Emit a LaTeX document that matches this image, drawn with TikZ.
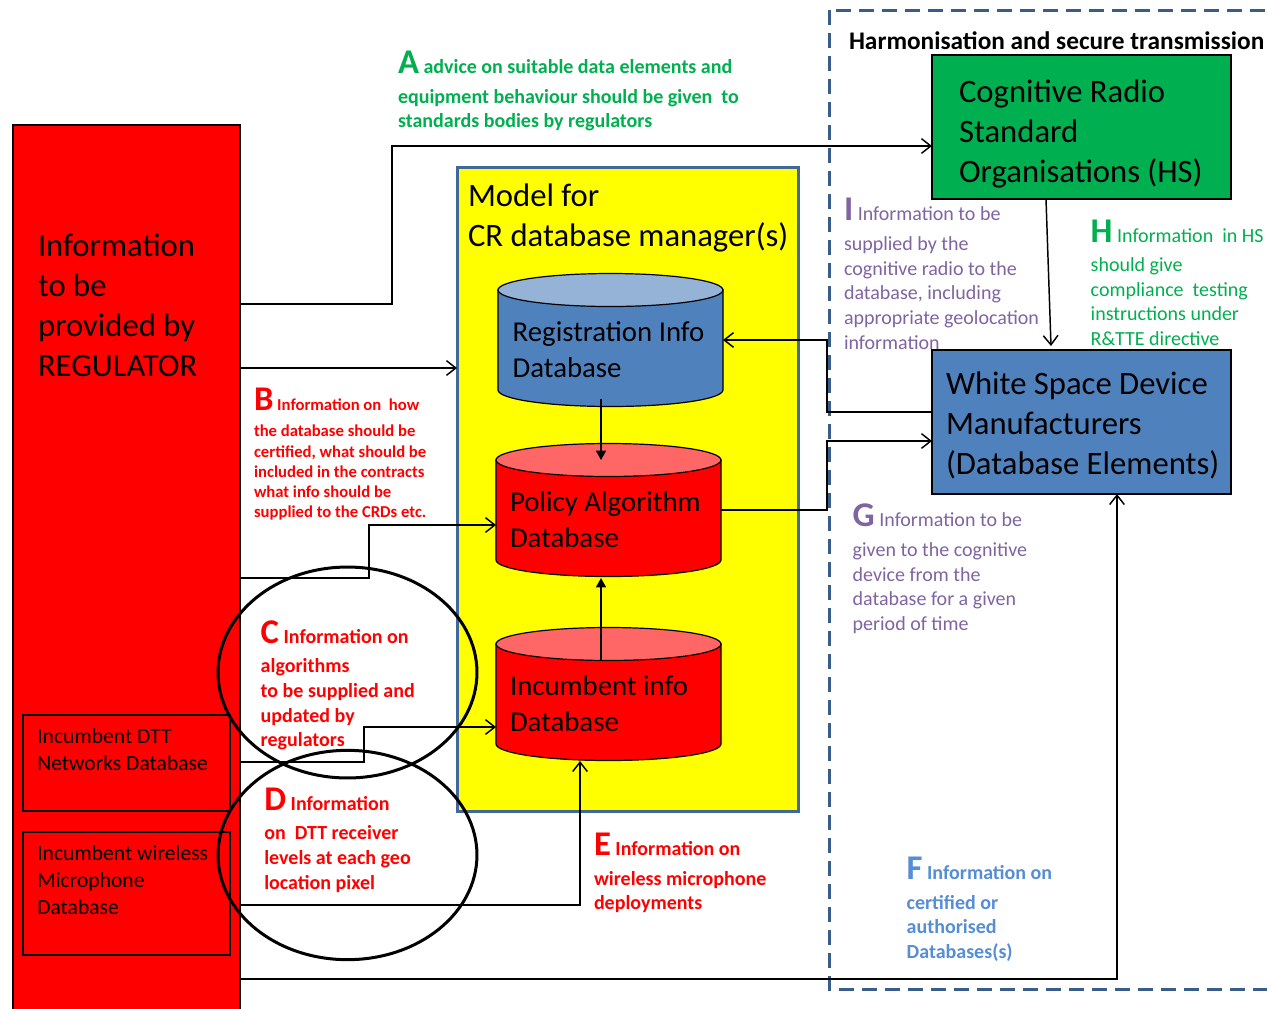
\documentclass[tikz,border=0pt]{standalone}
\usepackage{fontspec}
\setmainfont{Carlito}
\usetikzlibrary{arrows.meta,calc}
\definecolor{regred}{HTML}{FF0000}
\definecolor{topred}{HTML}{FF6666}
\definecolor{dbblue}{HTML}{4F81BD}
\definecolor{topblue}{HTML}{95B3D7}
\definecolor{hsgreen}{HTML}{00B050}
\definecolor{ylw}{HTML}{FFFF00}
\definecolor{frameblue}{HTML}{41689A}
\definecolor{dashblue}{HTML}{385D8A}
\definecolor{txtgreen}{HTML}{00B050}
\definecolor{txtpurple}{HTML}{8064A2}
\definecolor{txtblue}{HTML}{558ED5}
\newcommand\ml[1]{\begin{tabular}[t]{@{}l@{}}#1\end{tabular}}
\newcommand\bigL[2]{{\fontsize{#1}{#1}\selectfont\bfseries #2}}
\newcommand\dbcyl[5]{%
  \filldraw[fill=#4, draw=black, line width=0.9pt] ({#1-112.5},#2) -- ({#1-112.5},#3)
    arc[start angle=180, end angle=360, x radius=84.375pt, y radius=12.375pt] -- ({#1+112.5},#2) -- cycle;
  \filldraw[fill=#5, draw=black, line width=0.9pt] (#1,#2) ellipse[x radius=84.375pt, y radius=12.375pt];}
\begin{document}
\begin{tikzpicture}[x=0.75pt,y=-0.75pt,
  box/.style={rectangle, draw=black, outer sep=0pt, inner sep=0pt},
  area/.style={rectangle, outer sep=0pt, inner sep=0pt, minimum width=168.75pt, minimum height=100.5pt},
  con/.style={line width=1.1pt, -{Straight Barb[length=7pt,width=11pt]}},
  fcon/.style={line width=1.1pt, -{Triangle[length=7pt,width=7.5pt]}},
  txt/.style={anchor=base west, inner sep=0pt, outer sep=0pt},
  bigtxt/.style={txt, font=\fontsize{24.5}{30.2}\selectfont},
  cyltxt/.style={txt, font=\fontsize{21.6}{27}\selectfont},
  smalltxt/.style={txt, font=\fontsize{16.2}{20.4}\selectfont},
  lblbold/.style={txt, font=\fontsize{15}{18.5}\selectfont\bfseries},
  lblreg/.style={txt, font=\fontsize{15}{18.5}\selectfont}]
\clip (0,0) rectangle (1267,1008);
\fill[white] (0,0) rectangle (1267,1008);

% dashed harmonisation frame
\draw[dashblue, line width=2.25pt, dash pattern=on 11.25pt off 6pt] (829,10) rectangle (1310,989);
\node[txt, font=\fontsize{19}{22}\selectfont\bfseries] (harm) at (849,49.5) {Harmonisation and secure transmission};

% regulator column
\node[box, fill=regred, line width=1.5pt, minimum width=170.25pt, minimum height=671.25pt] (regulator) at (126.5,572.5) {};
\node[bigtxt] (regtxt) at (38,256) {\ml{Information\\to be\\provided by\\REGULATOR}};
\node[box, fill=regred, line width=1.1pt, minimum width=155.25pt, minimum height=72pt] (dtt) at (126.5,763) {};
\node[smalltxt] (dtttxt) at (37.3,743.3) {\ml{Incumbent DTT\\Networks Database}};
\node[box, fill=regred, line width=1.1pt, minimum width=155.25pt, minimum height=92.25pt] (mic) at (126.5,893.5) {};
\node[smalltxt] (mictxt) at (37.3,860) {\ml{Incumbent wireless\\Microphone\\Database}};

% model box
\node[box, draw=frameblue, fill=ylw, line width=2.25pt, minimum width=255.75pt, minimum height=483pt] (model) at (627.5,489) {};
\node[bigtxt] (modeltxt) at (468,206) {\ml{Model for\\CR database manager(s)}};

% cylinders
\dbcyl{610.5}{290}{390}{dbblue}{topblue}
\dbcyl{608.5}{460}{560}{regred}{topred}
\dbcyl{608.5}{644}{744}{regred}{topred}
\node[area] (reg) at (610.5,340) {};
\node[area] (pol) at (608.5,510) {};
\node[area] (inc) at (608.5,694) {};
\node[cyltxt] (regt) at (512.7,341) {\ml{Registration Info\\Database}};
\node[cyltxt] (polt) at (510,511) {\ml{Policy Algorithm\\Database}};
\node[cyltxt] (inct) at (510,695) {\ml{Incumbent info\\Database}};

% right boxes
\node[box, fill=hsgreen, line width=1.5pt, minimum width=224.25pt, minimum height=108pt] (hs) at (1081.5,127) {};
\node[bigtxt] (hstxt) at (959,102) {\ml{Cognitive Radio\\Standard\\Organisations (HS)}};
\node[box, fill=dbblue, line width=1.6pt, minimum width=224.25pt, minimum height=108pt] (wsd) at (1081.5,422) {};
\node[bigtxt] (wsdtxt) at (946,394) {\ml{White Space Device\\Manufacturers\\(Database Elements)}};

% ellipses
\draw[line width=2.25pt] (347.5,672.5) ellipse[x radius=97.1pt, y radius=79.1pt];
\draw[line width=2.25pt] (347.5,855) ellipse[x radius=97.1pt, y radius=78.5pt];

% connectors
\draw[con] ($(regulator.north east)+(0,179)$) -- (392,304) -- (392,146) -- ($(hs.north west)+(0,91)$);
\draw[con] ($(regulator.north east)+(0,243)$) -- ($(model.north west)+(0,201)$);
\draw[con] ($(regulator.north east)+(0,453)$) -- (369,578) -- (369,525) -- ($(pol.north west)+(0,82)$);
\draw[con] ($(regulator.north east)+(0,637)$) -- (364,762) -- (364,727) -- ($(inc.north west)+(0,100)$);
\draw[con] ($(regulator.north east)+(0,780)$) -- (580,905) -- ($(inc.south)+(-28.5,0)$);
\draw[con] ($(regulator.north east)+(0,854)$) -- (1117,979) -- ($(wsd.south)+(35.5,0)$);
\draw[con] ($(wsd.north west)+(0,62)$) -- (827,412) -- (827,340) -- (reg.east);
\draw[con] (pol.east) -- (827,510) -- (827,441) -- ($(wsd.north west)+(0,91)$);
\draw[con] ($(hs.south)+(-35.5,0)$) -- ($(wsd.north)+(-30.5,-4)$);
\draw[fcon] ($(reg.south)+(-9.5,-8)$) -- ($(pol.north)+(-7.5,17)$);
\draw[fcon] ($(inc.north)+(-7.5,34)$) -- ($(pol.south)+(-7.5,1)$);

% labels
\node[lblbold, text=txtgreen] (labA) at (398,73) {\ml{\bigL{26}{A} advice on suitable data elements and\\[4pt] equipment behaviour should be given\ \ to\\ standards bodies by regulators}};
\node[lblbold, text=regred, font=\fontsize{12.5}{15.2}\selectfont\bfseries] (labB) at (254,410.5) {\ml{\bigL{26}{B} Information on\ \ how\\[4.5pt] the database should be\\ certified, what should be\\ included in the contracts\\ what info should be\\ supplied to the CRDs etc.}};
\node[lblbold, text=regred] (labC) at (260.7,643.5) {\ml{\bigL{26}{C} Information on\\[3.5pt] algorithms\\ to be supplied and\\ updated by\\ regulators}};
\node[lblbold, text=regred] (labD) at (264.3,810.5) {\ml{\bigL{26}{D} Information\\[3.5pt] on\ \ DTT receiver\\ levels at each geo\\ location pixel}};
\node[lblbold, text=regred] (labE) at (594,855.3) {\ml{\bigL{26}{E} Information on\\[4pt] wireless microphone\\ deployments}};
\node[lblbold, text=txtblue] (labF) at (906.7,879.3) {\ml{\bigL{26}{F} Information on\\[4pt] certified or\\ authorised\\ Databases(s)}};
\node[lblreg, text=txtpurple] (labG) at (852.7,526.5) {\ml{\bigL{26}{G} Information to be\\[4pt] given to the cognitive\\ device from the\\ database for a given\\ period of time}};
\node[lblreg, text=txtgreen] (labH) at (1090.7,242) {\ml{\bigL{26}{H} Information\ \ in HS\\[3.5pt] should give\\ compliance\ \ testing\\ instructions under\\ R\&TTE directive}};
\node[lblreg, text=txtpurple] (labI) at (844,220.5) {\ml{\bigL{26}{I} Information to be\\[4pt] supplied by the\\ cognitive radio to the\\ database, including\\ appropriate geolocation\\ information}};
\end{tikzpicture}
\end{document}
